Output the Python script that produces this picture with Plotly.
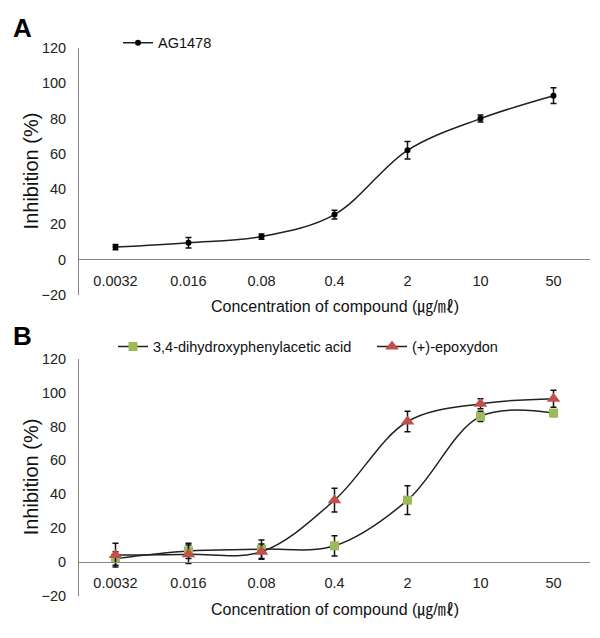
import plotly.graph_objects as go

## data
conc = ['0.0032', '0.016', '0.08', '0.4', '2', '10', '50']

ag1478 = [7, 9.5, 13, 25.5, 62, 80, 93]
ag1478_err = [1.5, 3, 1.5, 2.5, 5, 2, 4.5]

dopac = [2, 6.5, 7.5, 9.5, 36.5, 86, 88]
dopac_err = [4, 4.5, 5.5, 6, 8.5, 3, 2]

epoxydon = [4, 4.5, 6, 36.5, 83, 93.5, 96.5]
epoxydon_err = [7, 5.5, 4.5, 7, 6, 3, 5]

yticks = [-20, 0, 20, 40, 60, 80, 100, 120]

# page body has an 8px margin, so the figure is a bit smaller than the window
OFF = 8
W, H = 600 - 2 * OFF, 638 - 2 * OFF
FONT = 'Liberation Sans, Arial, Noto Sans CJK KR'
AXIS_GRAY = '#868686'

# screen pixel boxes of the two plot areas
x0, x1 = 79, 590
a_top, a_bot = 41, 294
b_top, b_bot = 360, 603


def px(sx):
    return (sx - OFF) / W


def py(sy):
    return 1 - (sy - OFF) / H


def zero_pos(top, bot):
    # paper y where the value 0 sits (range -20..120)
    return py(bot - (bot - top) * 20 / 140)


def curve(y, err, name, color, symbol, size, legend):
    return go.Scatter(
        x=conc, y=y, name=name, mode='lines+markers',
        line=dict(shape='spline', smoothing=1, color='#222222', width=1.5),
        marker=dict(symbol=symbol, size=size, color=color),
        error_y=dict(type='data', array=err, visible=True, color='#111111', thickness=1.5, width=3),
        cliponaxis=False,
        legend=legend,
    )


data = [
    curve(ag1478, ag1478_err, 'AG1478', '#000000', 'circle', 6, 'legend'),
]
data[0].update(xaxis='x', yaxis='y')

tr_g = curve(dopac, dopac_err, '3,4-dihydroxyphenylacetic acid', '#9BBB59', 'square', 9, 'legend2')
tr_r = curve(epoxydon, epoxydon_err, '(+)-epoxydon', '#C0504D', 'triangle-up', 12, 'legend3')
tr_g.update(xaxis='x2', yaxis='y2')
tr_r.update(xaxis='x2', yaxis='y2')
data += [tr_g, tr_r]

xdom = [px(x0), px(x1)]


def xaxis(anchor_pos):
    return dict(
        domain=xdom, type='category', categoryorder='array', categoryarray=conc,
        range=[-0.5, 6.5], anchor='free', position=anchor_pos,
        showline=True, linecolor=AXIS_GRAY, linewidth=1,
        showgrid=False, zeroline=False,
        ticks='outside', ticklen=8, tickcolor='rgba(0,0,0,0)',
        tickfont=dict(size=14.5, color='#222222', family=FONT),
    )


def yaxis(dom):
    return dict(
        domain=dom, range=[-20, 120], tickvals=yticks,
        showline=True, linecolor=AXIS_GRAY, linewidth=1,
        showgrid=False, zeroline=False,
        ticks='outside', ticklen=9, tickcolor='rgba(0,0,0,0)',
        tickfont=dict(size=14.5, color='#222222', family=FONT),
    )


def label(x, y, text, size, angle=0, bold=False):
    return dict(x=px(x), y=py(y), xref='paper', yref='paper',
                xanchor='center', yanchor='middle', textangle=angle,
                text=f'<b>{text}</b>' if bold else text,
                font=dict(size=size, family=FONT, color='#000000' if bold else '#111111'),
                showarrow=False)


def legend_box(x, y):
    return dict(x=px(x), y=py(y), xanchor='left', yanchor='top',
                bgcolor='rgba(0,0,0,0)', font=dict(size=14.5, family=FONT),
                itemwidth=30)


layout = go.Layout(
    width=W, height=H,
    margin=dict(l=0, r=0, t=0, b=0),
    plot_bgcolor='white', paper_bgcolor='white',
    font=dict(family=FONT, color='#111111'),
    xaxis=xaxis(zero_pos(a_top, a_bot)),
    yaxis=yaxis([py(a_bot), py(a_top)]),
    xaxis2=xaxis(zero_pos(b_top, b_bot)),
    yaxis2=yaxis([py(b_bot), py(b_top)]),
    showlegend=True,
    legend=legend_box(118, 19),
    legend2=legend_box(113, 331),
    legend3=legend_box(372, 331),
    annotations=[
        label(22, 20, 'A', 26, bold=True),
        label(22, 336, 'B', 26, bold=True),
        label(31, (a_top + a_bot) / 2, 'Inhibition (%)', 20, angle=-90),
        label(31, (b_top + b_bot) / 2, 'Inhibition (%)', 20, angle=-90),
        label((x0 + x1) / 2, 307, 'Concentration of compound (㎍/㎖)', 16),
        label((x0 + x1) / 2, 618, 'Concentration of compound (㎍/㎖)', 16),
    ],
)

fig = go.Figure(data=data, layout=layout)
fig.write_html('out.html')
